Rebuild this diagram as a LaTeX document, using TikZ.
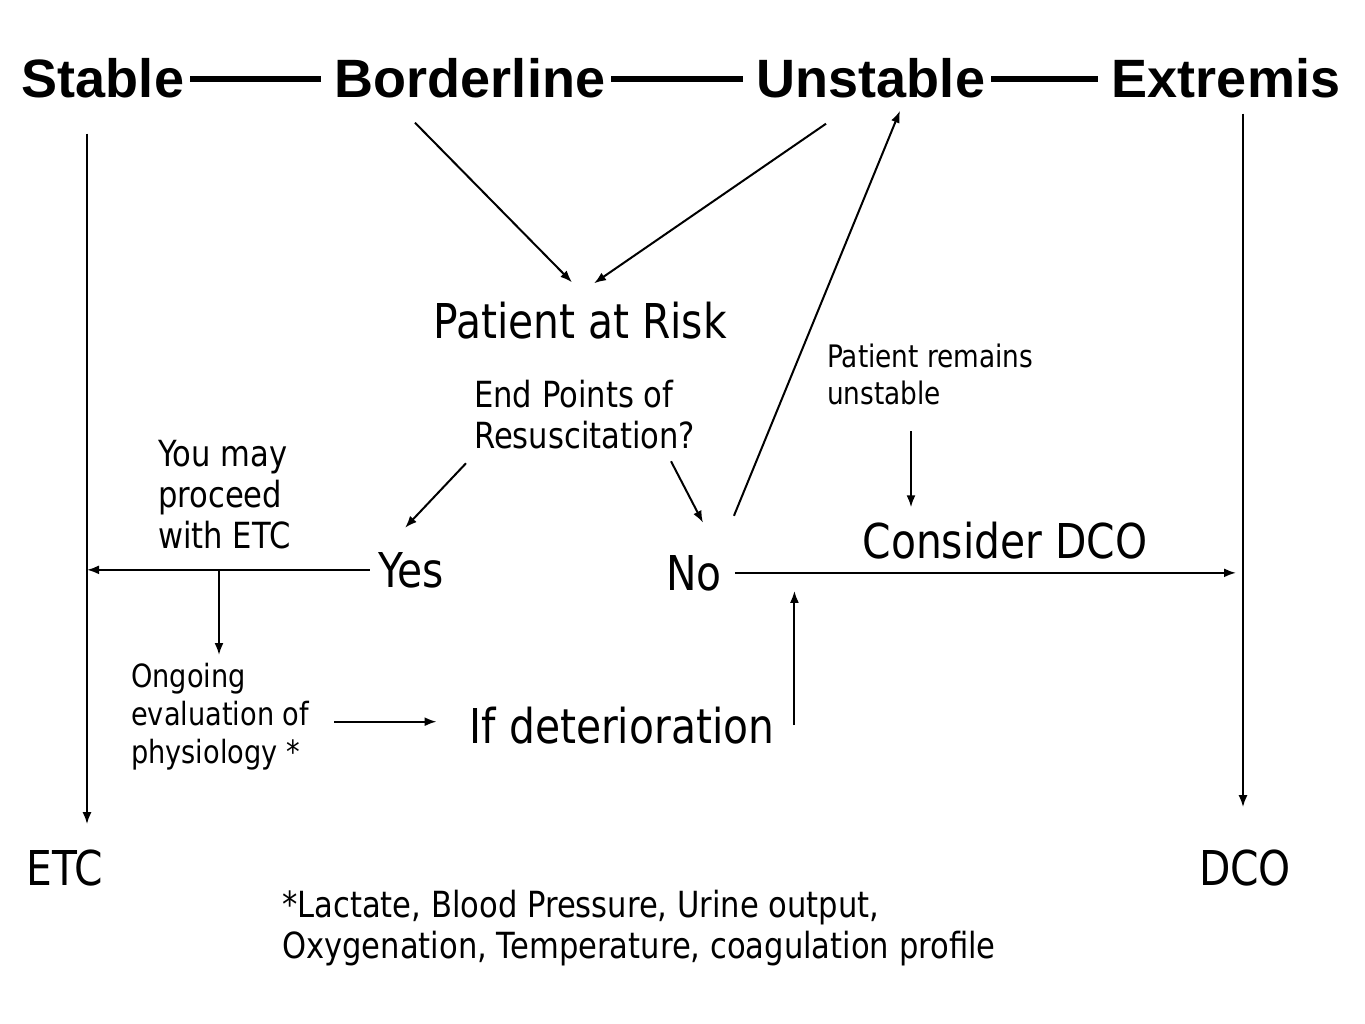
\documentclass[tikz,border=0pt]{standalone}
\usepackage{fontspec}
\setmainfont{DejaVu Sans}[FakeStretch=0.85]
\newfontfamily\hdfont{Liberation Sans}
\usetikzlibrary{arrows.meta}

\begin{document}
\begin{tikzpicture}[x=1pt,y=-1pt,
  ttl/.style={font=\hdfont\bfseries\fontsize{54}{60}\selectfont,inner sep=0pt,anchor=base},
  big/.style={font=\fontsize{48}{56}\selectfont,inner sep=0pt,anchor=base},
  note/.style={align=left,inner sep=0pt,anchor=north west},
  bar/.style={line width=6pt,shorten <=6pt,shorten >=14pt},
  ar/.style={-{Latex[length=12pt,width=9pt]},line width=2pt}]
\useasboundingbox[fill=white] (0,0) rectangle (1365,1024);
% ---- scale of states
\node[ttl] (stable) at (103,98) {Stable};
\node[ttl] (border) at (470,98) {Borderline};
\node[ttl] (unst) at (871,98) {Unstable};
\node[ttl] (extr) at (1226,98) {Extremis};
\draw[bar] (stable) -- (border);
\draw[bar] (border) -- (unst);
\draw[bar] (unst) -- (extr);
% ---- outcomes
\node[big] (etc) at (65,885) {ETC};
\node[big] (dco) at (1245,885) {DCO};
\draw[ar] ([xshift=-16pt,yshift=-35pt]stable.south) -- ([xshift=22pt,yshift=25pt]etc.north);
\draw[ar] ([xshift=17pt,yshift=-15pt]extr.south) -- ([xshift=-2pt,yshift=42pt]dco.north);
% ---- patient at risk
\node[big] (risk) at (580,338) {Patient at Risk};
\draw[ar] ([xshift=-55pt,yshift=-24pt]border.south) -- ([xshift=-8pt,yshift=19pt]risk.north);
\draw[ar] ([xshift=-45pt,yshift=-25pt]unst.south) -- ([xshift=14pt,yshift=18pt]risk.north);
\node[note,font=\fontsize{36}{41}\selectfont] (endp) at (474,380) {End Points of\\Resuscitation?};
\node[big] (yes) at (411,587) {Yes};
\node[big] (no) at (694,590) {No};
\draw[ar] ([xshift=-8pt,yshift=-14pt]endp.south west) -- ([xshift=-6pt,yshift=24pt]yes.north);
\draw[ar] ([xshift=197pt,yshift=-12pt]endp.south west) -- ([xshift=9pt,yshift=32pt]no.north);
% ---- yes branch
\node[note,font=\fontsize{36}{41}\selectfont] (may) at (158,440) {You may\\proceed\\with ETC};
\node[note,font=\fontsize{32}{38}\selectfont] (ongo) at (131,663) {Ongoing\\evaluation of\\physiology *};
\node[big] (ifdet) at (622,743) {If deterioration};
\draw[ar] ([xshift=-8pt]yes.west) -- ([xshift=-16pt]yes.west -| stable.south);
\draw[ar] ([xshift=88pt]ongo.north west |- yes.west) -- ([xshift=88pt,yshift=8pt]ongo.north west);
\draw[ar] ([xshift=25pt,yshift=-5pt]ongo.east) -- ([xshift=-33pt,yshift=-5pt]ongo.east -| ifdet.west);
\draw[ar] ([xshift=20pt]ifdet.east) -- ([xshift=20pt]ifdet.east |- no.south);
% ---- no branch
\node[note,font=\fontsize{31}{37}\selectfont] (rem) at (827,344) {Patient remains\\unstable};
\node[big] (cons) at (1005,558) {Consider DCO};
\draw[ar] ([xshift=12pt,yshift=39pt]no.north east) -- ([xshift=29pt,yshift=-12pt]unst.south);
\draw[ar] ([xshift=84pt,yshift=-26pt]rem.south west) -- ([xshift=-94pt,yshift=14pt]cons.north);
\draw[ar] ([xshift=13pt]no.east) -- ([xshift=10pt]no.east -| extr.south);
% ---- footnote
\node[note,font=\fontsize{36}{41}\selectfont] (foot) at (282,890) {*Lactate, Blood Pressure, Urine output,\\Oxygenation, Temperature, coagulation profile};
\end{tikzpicture}
\end{document}
